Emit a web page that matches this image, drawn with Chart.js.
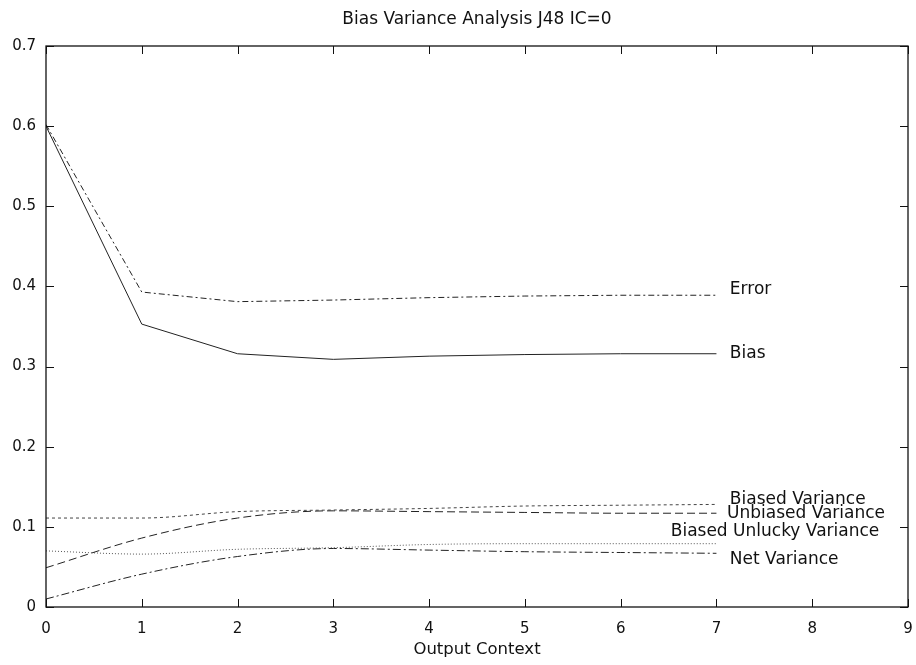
<!DOCTYPE html>
<html>
<head>
<meta charset="utf-8">
<script src="https://cdn.jsdelivr.net/npm/chart.js@4.4.1/dist/chart.umd.min.js"></script>
<style>
  html, body { margin: 0; padding: 0; background: #fff; }
  #wrap { width: 916px; height: 665px; }
</style>
</head>
<body>
<div id="wrap"><canvas id="c" width="916" height="665"></canvas></div>
<script>
// ---- data ----
const outputContext = [0, 1, 2, 3, 4, 5, 6, 7];
const errorVals      = [0.602, 0.393, 0.381, 0.383, 0.386, 0.388, 0.389, 0.389];
const biasVals       = [0.600, 0.353, 0.316, 0.309, 0.313, 0.315, 0.316, 0.316];
const biasedVar      = [0.111, 0.111, 0.119, 0.121, 0.123, 0.126, 0.127, 0.128];
const unbiasedVar    = [0.049, 0.086, 0.111, 0.120, 0.119, 0.118, 0.117, 0.117];
const biasedUnlucky  = [0.070, 0.066, 0.072, 0.074, 0.078, 0.079, 0.079, 0.079];
const netVar         = [0.010, 0.041, 0.063, 0.073, 0.071, 0.069, 0.068, 0.067];
const seriesNames = ["Error", "Bias", "Biased Variance", "Unbiased Variance", "Biased Unlucky Variance", "Net Variance"];
const xTicks = [0, 1, 2, 3, 4, 5, 6, 7, 8, 9];
const yTicks = [0, 0.1, 0.2, 0.3, 0.4, 0.5, 0.6, 0.7];
const chartTitle = "Bias Variance Analysis J48 IC=0";
const xTitle = "Output Context";

const FONT = "'DejaVu Sans', 'Liberation Sans', Arial, sans-serif";
const pts = vals => outputContext.map((x, i) => ({x: x, y: vals[i]}));

// label anchors (data coordinates) for the in-plot series labels
const labelAnchors = [
  {x: 7.14, y: 0.396, align: 'left'},
  {x: 7.14, y: 0.316, align: 'left'},
  {x: 7.14, y: 0.134, align: 'left'},
  {x: 7.11, y: 0.1165, align: 'left'},
  {x: 8.70, y: 0.0945, align: 'right'},
  {x: 7.14, y: 0.059, align: 'left'}
];

const framePlugin = {
  id: 'frame',
  afterDraw(chart) {
    const ctx = chart.ctx, a = chart.chartArea;
    const xs = chart.scales.x, ys = chart.scales.y;
    ctx.save();
    ctx.strokeStyle = '#111';
    ctx.lineWidth = 1.3;
    ctx.strokeRect(a.left, a.top, a.right - a.left, a.bottom - a.top);
    ctx.lineWidth = 1;
    const L = 8;
    ctx.beginPath();
    xs.ticks.forEach(t => {
      const px = Math.round(xs.getPixelForValue(t.value)) + 0.5;
      ctx.moveTo(px, a.bottom); ctx.lineTo(px, a.bottom - L);
      ctx.moveTo(px, a.top); ctx.lineTo(px, a.top + L);
    });
    ys.ticks.forEach(t => {
      const py = Math.round(ys.getPixelForValue(t.value)) + 0.5;
      ctx.moveTo(a.left, py); ctx.lineTo(a.left + L, py);
      ctx.moveTo(a.right, py); ctx.lineTo(a.right - L, py);
    });
    ctx.stroke();
    // series labels
    ctx.fillStyle = '#111';
    ctx.font = "17px " + FONT;
    ctx.textBaseline = 'middle';
    seriesNames.forEach((name, i) => {
      const an = labelAnchors[i];
      ctx.textAlign = an.align;
      ctx.fillText(name, xs.getPixelForValue(an.x), ys.getPixelForValue(an.y));
    });
    ctx.restore();
  }
};

const lineBase = { borderColor: '#222', borderWidth: 1, pointRadius: 0, fill: false };

new Chart(document.getElementById('c'), {
  type: 'line',
  data: {
    datasets: [
      Object.assign({}, lineBase, {label: seriesNames[0], data: pts(errorVals), borderDash: [6, 3, 2, 3], tension: 0}),
      Object.assign({}, lineBase, {label: seriesNames[1], data: pts(biasVals), tension: 0}),
      Object.assign({}, lineBase, {label: seriesNames[2], data: pts(biasedVar), borderDash: [3, 3], cubicInterpolationMode: 'monotone', borderColor: '#444'}),
      Object.assign({}, lineBase, {label: seriesNames[3], data: pts(unbiasedVar), borderDash: [8, 4], cubicInterpolationMode: 'monotone'}),
      Object.assign({}, lineBase, {label: seriesNames[4], data: pts(biasedUnlucky), borderDash: [1, 2], cubicInterpolationMode: 'monotone', borderColor: '#555'}),
      Object.assign({}, lineBase, {label: seriesNames[5], data: pts(netVar), borderDash: [8, 3, 2, 3], cubicInterpolationMode: 'monotone'})
    ]
  },
  options: {
    responsive: false,
    animation: false,
    events: [],
    layout: { padding: { left: 0, right: 8, top: 0, bottom: 0 } },
    plugins: {
      legend: { display: false },
      tooltip: { enabled: false },
      title: {
        display: true,
        text: chartTitle,
        fullSize: false,
        color: '#111',
        font: { family: FONT, size: 17, weight: 'normal' },
        padding: { top: 9, bottom: 16.6 }
      }
    },
    scales: {
      x: {
        type: 'linear',
        min: 0, max: 9,
        afterBuildTicks: s => { s.ticks = xTicks.map(v => ({value: v})); },
        afterFit: s => { s.height = 58; s.paddingRight = 0; },
        grid: { display: false, drawTicks: false },
        border: { display: false },
        ticks: { color: '#111', padding: 13, font: { family: FONT, size: 15 }, maxRotation: 0, callback: v => String(v) },
        title: { display: true, text: xTitle, color: '#111', font: { family: FONT, size: 16.5 }, padding: { top: 0, bottom: 5 } }
      },
      y: {
        type: 'linear',
        min: 0, max: 0.7,
        afterBuildTicks: s => { s.ticks = yTicks.map(v => ({value: v})); },
        afterFit: s => { s.width = 46; },
        grid: { display: false, drawTicks: false },
        border: { display: false },
        ticks: { color: '#111', padding: 10, font: { family: FONT, size: 15 }, callback: v => String(+(+v).toFixed(1)) }
      }
    }
  },
  plugins: [framePlugin]
});
</script>
</body>
</html>
